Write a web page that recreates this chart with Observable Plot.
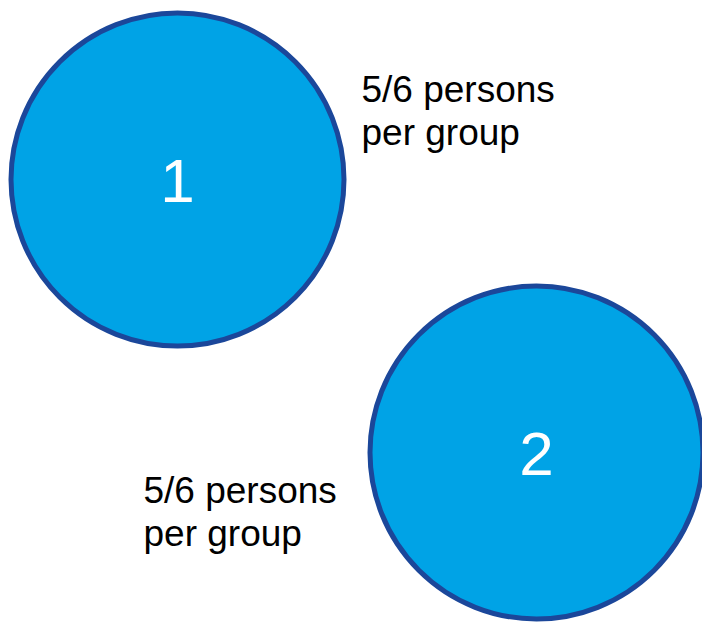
<!DOCTYPE html>
<html>
<head>
<meta charset="utf-8">
<script src="https://cdn.jsdelivr.net/npm/d3@7"></script>
<script src="https://cdn.jsdelivr.net/npm/@observablehq/plot@0.6"></script>
<style>
  html, body { margin: 0; padding: 0; background: #ffffff; }
  #chart svg { display: block; }
</style>
</head>
<body>
<div id="chart"></div>
<script>
// Data
const groups = ["1", "2"];
const groupCol = [0, 1];
const groupRow = [0, 1];
const notes = ["5/6 persons\nper group", "5/6 persons\nper group"];

const table = groups.map((g, i) => ({group: g, col: groupCol[i], row: groupRow[i], note: notes[i]}));

const font = "'Liberation Sans', Arial, Helvetica, sans-serif";

const chart = Plot.plot({
  width: 702,
  height: 624,
  margin: 0,
  x: {domain: [0, 1], range: [177, 536], axis: null},
  y: {domain: [0, 1], range: [179, 452], axis: null},
  style: {background: "#ffffff", fontFamily: font},
  marks: [
    Plot.dot(table, {x: "col", y: "row", r: 166.5, fill: "#00a3e6", stroke: "#1b479a", strokeWidth: 5}),
    Plot.text(table, {x: "col", y: "row", text: "group", fill: "#ffffff", fontSize: 62, fontFamily: font, dy: 3}),
    Plot.text(table.filter(d => d.group === "1"), {
      x: "col", y: "row", text: "note", textAnchor: "start", lineAnchor: "top",
      lineHeight: 1.16, fontSize: 37, fill: "#000000", fontFamily: font, dx: 184, dy: -107.5
    }),
    Plot.text(table.filter(d => d.group === "2"), {
      x: "col", y: "row", text: "note", textAnchor: "start", lineAnchor: "top",
      lineHeight: 1.16, fontSize: 37, fill: "#000000", fontFamily: font, dx: -393, dy: 20.5
    })
  ]
});
document.getElementById("chart").appendChild(chart);
</script>
</body>
</html>
